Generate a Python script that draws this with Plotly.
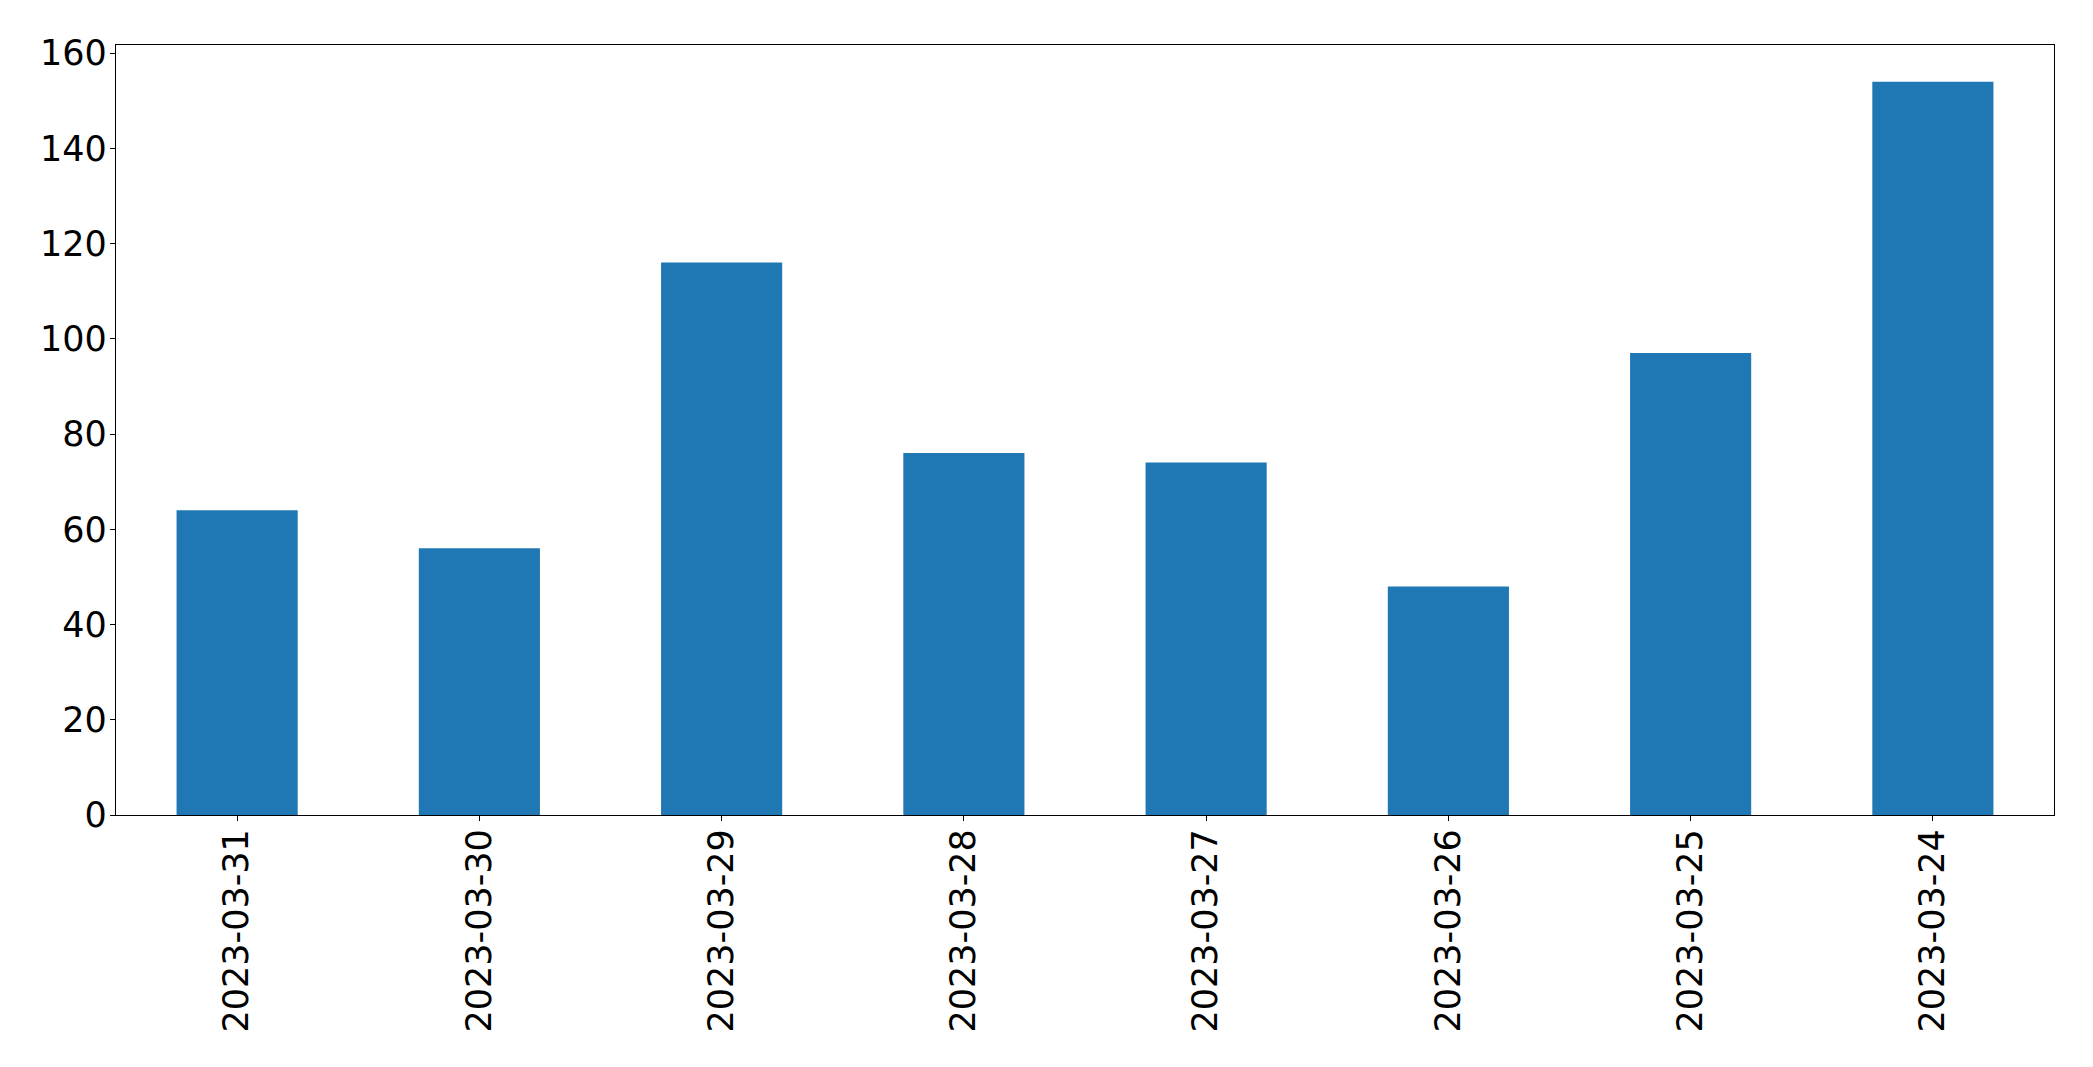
import plotly.graph_objects as go

dates = ["2023-03-31", "2023-03-30", "2023-03-29", "2023-03-28",
         "2023-03-27", "2023-03-26", "2023-03-25", "2023-03-24"]
counts = [64, 56, 116, 76, 74, 48, 97, 154]
y_ticks = [0, 20, 40, 60, 80, 100, 120, 140, 160]

fig = go.Figure(go.Bar(x=dates, y=counts, marker=dict(color="#1f77b4", line=dict(width=0)), width=0.5))

fig.update_layout(
    width=2093, height=1067,
    margin=dict(l=108, r=47, t=37, b=260, autoexpand=False),
    plot_bgcolor="white", paper_bgcolor="white",
    font=dict(family="DejaVu Sans", size=35, color="black"),
    showlegend=False,
)
fig.update_xaxes(
    type="category", range=[-0.5, 7.5], tickangle=-90,
    showline=True, linecolor="black", linewidth=1.3, mirror=True,
    ticks="outside", ticklen=5, tickwidth=1.3, tickcolor="black",
    showgrid=False, zeroline=False, ticklabelstandoff=-6,
)
fig.update_yaxes(
    range=[0, 161.7], tickvals=y_ticks,
    showline=True, linecolor="black", linewidth=1.3, mirror=True,
    ticks="outside", ticklen=5, tickwidth=1.3, tickcolor="black",
    showgrid=False, zeroline=False, ticklabelstandoff=-4,
)
fig.write_html("out.html")
